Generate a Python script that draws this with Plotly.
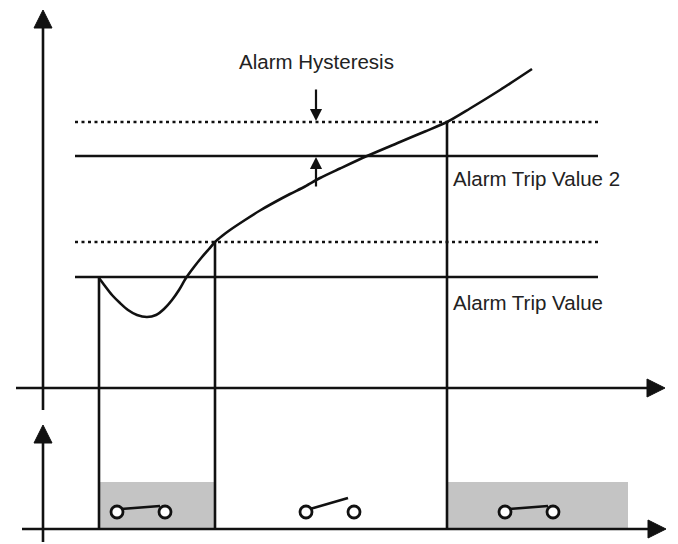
import plotly.graph_objects as go

W, H = 678, 544
PAGE_MARGIN = 8  # browser default body margin

# ---- data (diagram units: x = time, y = value, y grows downward on screen) ----
curve_t = [99, 105, 112, 120, 128, 137, 147, 156, 164, 172, 179, 186, 194, 202, 209, 215,
           222, 230, 245, 260, 275, 290, 305, 320, 340, 367, 400, 425, 447, 470, 500, 532]
curve_v = [278, 286, 295, 303, 310, 315, 317, 315, 309, 300, 290, 278, 267, 257, 249, 242,
           236, 230, 220, 210.5, 202, 194, 186.5, 178, 168.5, 156, 142, 131.5, 122, 108.5, 90, 69]

level_names = ["Alarm Trip Value", "Trip Value hysteresis", "Alarm Trip Value 2", "Trip Value 2 hysteresis"]
level_values = [277, 242, 156, 122]
level_dashed = [False, True, False, True]
level_span = [75, 598]

switch_times = [99, 215, 447]
switch_tops = [277, 242, 122]

relay_on_start = [99, 447]
relay_on_end = [215, 628]
relay_on_top = 482

main_axis_x = 43
main_axis_y = 388
main_axis_xspan = [16, 665]
main_axis_yspan = [410, 10]

relay_axis_y = 529
relay_axis_xspan = [22, 666]
relay_axis_yspan = [542, 425]

switch_centers = [141, 330, 529]
switch_closed = [True, False, True]
switch_row = 512

hyst_x = 316
labels = ["Alarm Hysteresis", "Alarm Trip Value 2", "Alarm Trip Value"]
label_x = [316, 451, 451]
label_y = [61, 178, 302]
label_anchor = ["center", "left", "left"]

INK = "#111111"
GREY = "#c4c4c4"
LW = 2.6

fig = go.Figure()

# relay "on" regions
for x0, x1 in zip(relay_on_start, relay_on_end):
    fig.add_trace(go.Scatter(x=[x0, x1, x1, x0, x0],
                             y=[relay_on_top, relay_on_top, relay_axis_y, relay_axis_y, relay_on_top],
                             mode="lines", fill="toself", fillcolor=GREY,
                             line=dict(width=0, color=GREY), hoverinfo="skip"))

# levels
for v, d in zip(level_values, level_dashed):
    fig.add_trace(go.Scatter(x=level_span, y=[v, v], mode="lines",
                             line=dict(color=INK, width=LW, dash="3px,3.5px" if d else "solid"),
                             hoverinfo="skip"))

# vertical switching lines
for t, top in zip(switch_times, switch_tops):
    fig.add_trace(go.Scatter(x=[t, t], y=[top, relay_axis_y], mode="lines",
                             line=dict(color=INK, width=LW), hoverinfo="skip"))

# process curve
fig.add_trace(go.Scatter(x=curve_t, y=curve_v, mode="lines",
                         line=dict(color=INK, width=LW, shape="spline", smoothing=0.8),
                         hoverinfo="skip"))

# axes
def arrow_axis(xs, ys):
    fig.add_trace(go.Scatter(x=xs, y=ys, mode="lines",
                             line=dict(color=INK, width=LW), hoverinfo="skip"))

def head(tip, direction, length=18, half=9):
    tx, ty = tip
    if direction == "up":
        xs = [tx, tx - half, tx + half, tx]
        ys = [ty, ty + length, ty + length, ty]
    else:  # right
        xs = [tx, tx - length, tx - length, tx]
        ys = [ty, ty - half, ty + half, ty]
    fig.add_trace(go.Scatter(x=xs, y=ys, mode="lines", fill="toself", fillcolor=INK,
                             line=dict(color=INK, width=1), hoverinfo="skip"))

arrow_axis([main_axis_x, main_axis_x], [main_axis_yspan[0], main_axis_yspan[1] + 10])
head((main_axis_x, main_axis_yspan[1]), "up")
arrow_axis([main_axis_xspan[0], main_axis_xspan[1] - 10], [main_axis_y, main_axis_y])
head((main_axis_xspan[1], main_axis_y), "right")
arrow_axis([main_axis_x, main_axis_x], [relay_axis_yspan[0], relay_axis_yspan[1] + 10])
head((main_axis_x, relay_axis_yspan[1]), "up")
arrow_axis([relay_axis_xspan[0], relay_axis_xspan[1] - 10], [relay_axis_y, relay_axis_y])
head((relay_axis_xspan[1], relay_axis_y), "right")

# switch symbols
for c, closed in zip(switch_centers, switch_closed):
    half = 24
    left, right = c - half, c + half
    if closed:
        lx = [left + 4, right - 5]
        ly = [switch_row - 3, switch_row - 6]
    else:
        lx = [left + 4, right - 6]
        ly = [switch_row - 3, switch_row - 14]
    fig.add_trace(go.Scatter(x=lx, y=ly, mode="lines",
                             line=dict(color=INK, width=LW), hoverinfo="skip"))
    fig.add_trace(go.Scatter(x=[left, right], y=[switch_row, switch_row], mode="markers",
                             marker=dict(symbol="circle", size=12, color="white",
                                         line=dict(color=INK, width=2.8)),
                             hoverinfo="skip"))

# hysteresis arrows
fig.add_annotation(x=hyst_x, y=level_values[3] - 1, ax=hyst_x, ay=88, xref="x", yref="y",
                   axref="x", ayref="y", showarrow=True, arrowhead=2, arrowsize=1.1,
                   arrowwidth=2.2, arrowcolor=INK, text="")
fig.add_annotation(x=hyst_x, y=level_values[2] + 1, ax=hyst_x, ay=188, xref="x", yref="y",
                   axref="x", ayref="y", showarrow=True, arrowhead=2, arrowsize=1.1,
                   arrowwidth=2.2, arrowcolor=INK, text="")

for t, x, y, a in zip(labels, label_x, label_y, label_anchor):
    fig.add_annotation(x=x, y=y, text=t, showarrow=False, xanchor=a, yanchor="middle",
                       font=dict(family="Liberation Sans, Arial, sans-serif", size=20.5, color="#222222"))

fig.update_layout(
    width=W - PAGE_MARGIN, height=H - PAGE_MARGIN, margin=dict(l=0, r=0, t=0, b=0),
    paper_bgcolor="white", plot_bgcolor="white", showlegend=False,
    xaxis=dict(range=[PAGE_MARGIN, W], visible=False, fixedrange=True),
    yaxis=dict(range=[H, PAGE_MARGIN], visible=False, fixedrange=True),
)

fig.write_html("out.html")
